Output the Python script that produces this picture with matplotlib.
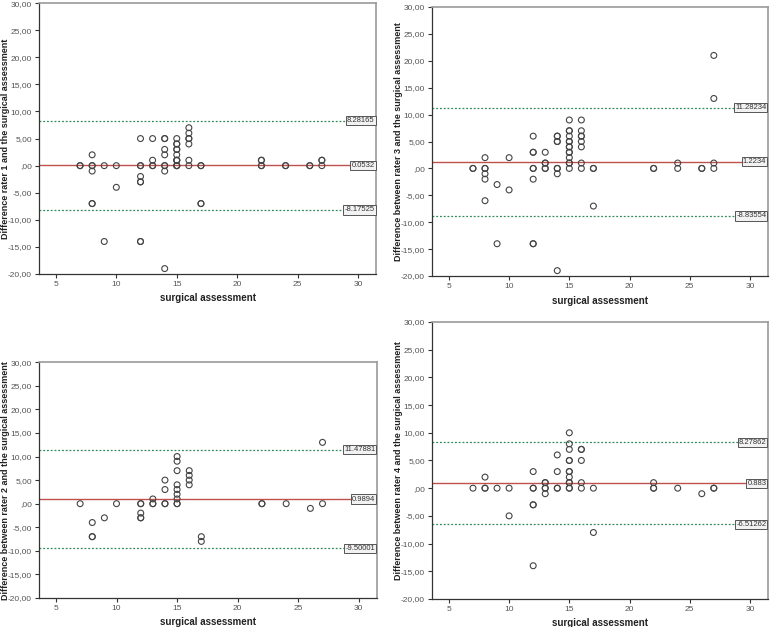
import matplotlib
matplotlib.use("Agg")
import matplotlib.pyplot as plt
from matplotlib.ticker import FuncFormatter

plt.rcParams["font.family"] = ["Liberation Sans", "DejaVu Sans"]

# surgical assessment (x) and difference (y) per rater
# repeated pairs stand for overlapping circles (darker in the original)
r1_x = [7, 7, 8, 8, 8, 8, 8, 8, 9, 9, 10, 10, 12, 12, 12, 12, 12, 12, 12, 12,
        13, 13, 13, 13, 14, 14, 14, 14, 14, 14, 14, 14,
        15, 15, 15, 15, 15, 15, 15, 15, 15, 15, 15, 15,
        16, 16, 16, 16, 16, 16, 16, 17, 17, 17, 17, 22, 22, 22, 22, 24, 24, 26, 26, 27, 27, 27]
r1_y = [0, 0, 2, 0, 0, -1, -7, -7, 0, -14, 0, -4, 5, 0, 0, -2, -3, -3, -14, -14,
        5, 1, 0, 0, 5, 5, 3, 2, 0, 0, -1, -19,
        5, 4, 4, 3, 3, 2, 1, 1, 1, 0, 0, 0,
        7, 6, 5, 5, 4, 1, 0, 0, 0, -7, -7, 1, 1, 0, 0, 0, 0, 0, 0, 1, 1, 0]
r1_mean, r1_lo, r1_hi = 0.0532, -8.17525, 8.28165

r3_x = [7, 7, 8, 8, 8, 8, 8, 8, 9, 9, 10, 10,
        12, 12, 12, 12, 12, 12, 12, 12, 13, 13, 13, 13, 13,
        14, 14, 14, 14, 14, 14, 14, 14,
        15, 15, 15, 15, 15, 15, 15, 15, 15, 15, 15, 15, 15, 15,
        16, 16, 16, 16, 16, 16, 16, 16, 17, 17, 17, 22, 22, 24, 24, 26, 26, 27, 27, 27, 27]
r3_y = [0, 0, 2, 0, 0, -1, -2, -6, -3, -14, 2, -4,
        6, 3, 3, 0, 0, -2, -14, -14, 3, 1, 1, 0, 0,
        6, 6, 5, 5, 0, 0, -1, -19,
        9, 7, 7, 6, 5, 5, 4, 4, 3, 3, 2, 1, 1, 0,
        9, 7, 6, 6, 5, 4, 1, 0, 0, 0, -7, 0, 0, 1, 0, 0, 0, 21, 13, 1, 0]
r3_mean, r3_lo, r3_hi = 1.2234, -8.83554, 11.28234

r2_x = [7, 8, 8, 8, 9, 10, 12, 12, 12, 12, 12, 13, 13, 13, 14, 14, 14, 14,
        15, 15, 15, 15, 15, 15, 15, 15, 15, 16, 16, 16, 16, 17, 17,
        22, 22, 24, 26, 27, 27]
r2_y = [0, -4, -7, -7, -3, 0, 0, 0, -2, -3, -3, 1, 0, 0, 5, 3, 0, 0,
        10, 9, 7, 4, 3, 2, 1, 0, 0, 7, 6, 5, 4, -7, -8,
        0, 0, 0, -1, 13, 0]
r2_mean, r2_lo, r2_hi = 0.9894, -9.50001, 11.47881

r4_x = [7, 8, 8, 8, 9, 10, 10, 12, 12, 12, 12, 12, 12, 13, 13, 13, 13, 13,
        14, 14, 14, 14, 15, 15, 15, 15, 15, 15, 15, 15, 15, 15, 15, 15,
        16, 16, 16, 16, 16, 17, 17, 22, 22, 22, 24, 26, 27, 27]
r4_y = [0, 2, 0, 0, 0, 0, -5, 3, 0, 0, -3, -3, -14, 1, 1, 0, 0, -1,
        6, 3, 0, 0, 10, 8, 7, 5, 5, 3, 3, 2, 1, 1, 0, 0,
        7, 7, 5, 1, 0, 0, -8, 1, 0, 0, 0, -1, 0, 0]
r4_mean, r4_lo, r4_hi = 0.883, -6.51262, 8.27862

ylabels = ["Difference rater 1 and the surgical assessment",
           "Difference between rater 3 and the surgical assessment",
           "Difference between rater 2 and the surgical assessment",
           "Difference between rater 4 and the surgical assessment"]
xlabel = "surgical assessment"

panels = [
    (r1_x, r1_y, r1_mean, r1_lo, r1_hi, [0.050, 0.563, 0.433, 0.432]),
    (r3_x, r3_y, r3_mean, r3_lo, r3_hi, [0.5546, 0.5598, 0.4313, 0.429]),
    (r2_x, r2_y, r2_mean, r2_lo, r2_hi, [0.050, 0.0463, 0.434, 0.376]),
    (r4_x, r4_y, r4_mean, r4_lo, r4_hi, [0.5546, 0.0447, 0.4313, 0.4418]),
]

def fmt_y(v, pos):
    s = "%.2f" % v
    if s.startswith("0."):
        s = s[1:]
    return s.replace(".", ",")

fig = plt.figure(figsize=(7.79, 6.27), dpi=100)

for (xs, ys, m, lo, hi, rect), ylab in zip(panels, ylabels):
    ax = fig.add_axes(rect)
    ax.scatter(xs, ys, s=18, facecolors="none", edgecolors="#444444", linewidths=0.8, zorder=3)
    ax.axhline(m, color="#c0504d", lw=1.0, zorder=2)
    ax.axhline(hi, color="#2e8b57", lw=0.9, ls=(0, (1.5, 1.5)), zorder=2)
    ax.axhline(lo, color="#2e8b57", lw=0.9, ls=(0, (1.5, 1.5)), zorder=2)
    for v in (hi, m, lo):
        ax.text(0.995, v, str(v), transform=ax.get_yaxis_transform(),
                ha="right", va="center", fontsize=5.5, color="#333333", zorder=4,
                bbox=dict(boxstyle="square,pad=0.15", fc="#f2f2f2", ec="#555555", lw=0.7))
    ax.set_xlim(3.6, 31.5)
    ax.set_ylim(-20, 30)
    ax.set_xticks([5, 10, 15, 20, 25, 30])
    ax.set_yticks([-20, -15, -10, -5, 0, 5, 10, 15, 20, 25, 30])
    ax.yaxis.set_major_formatter(FuncFormatter(fmt_y))
    ax.tick_params(labelsize=6, colors="#555555", length=3, width=0.8, pad=2)
    ax.tick_params(axis="both", color="#333333")
    for side in ("top", "right"):
        ax.spines[side].set_color("#9a9a9a")
        ax.spines[side].set_linewidth(1.2)
    for side in ("left", "bottom"):
        ax.spines[side].set_color("#333333")
        ax.spines[side].set_linewidth(0.9)
    ax.set_xlabel(xlabel, fontsize=7, fontweight="bold", color="#222222", labelpad=4)
    ax.set_ylabel(ylab, fontsize=6.5, fontweight="bold", color="#222222")
    ax.yaxis.set_label_coords(-29 / (rect[2] * 779), 0.5)

plt.savefig("out.png", dpi=100)
